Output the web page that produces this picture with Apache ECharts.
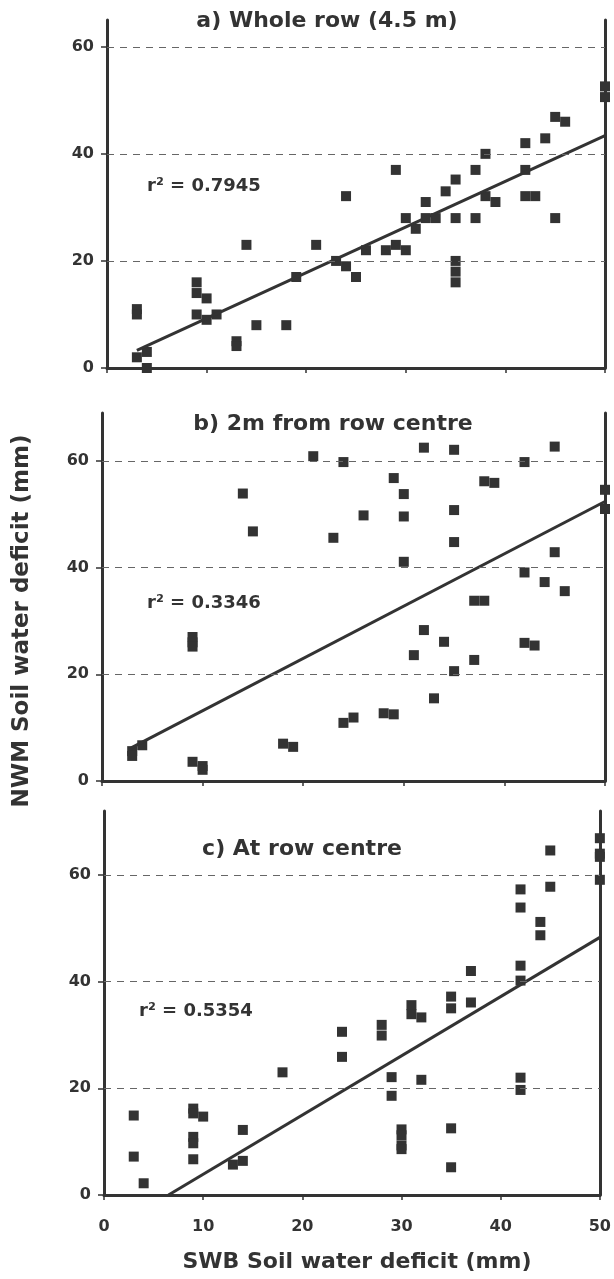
<!DOCTYPE html>
<html>
<head>
<meta charset="utf-8">
<script src="https://cdn.jsdelivr.net/npm/echarts@6/dist/echarts.min.js"></script>
<style>
  html, body { margin: 0; padding: 0; background: #fff; }
  #chart { width: 614px; height: 1279px; }
</style>
</head>
<body>
<div id="chart"></div>
<script>
// SWB (x) vs NWM (y) soil water deficit, mm
const pointsA = [
  [50, 52.6], [50, 50.6], [45, 46.9], [46, 46], [44, 42.9], [42, 42], [42, 37], [38, 40],
  [37, 37], [29, 37], [35, 35.2], [24, 32.1], [34, 33], [32, 31], [38, 32.1], [39, 31],
  [42, 32.1], [43, 32.1], [30, 28], [32, 28], [33, 28], [35, 28], [37, 28], [45, 28],
  [31, 26], [14, 23], [21, 23], [26, 22], [28, 22], [29, 23], [30, 22], [23, 20],
  [24, 19], [25, 17], [19, 17], [35, 20], [35, 18], [35, 16], [9, 16], [9, 14],
  [10, 13], [9, 10], [10, 9], [11, 10], [3, 11], [3, 10], [3, 2], [4, 3], [4, 0],
  [13, 5], [13, 4.1], [15, 8], [18, 8]
]
const pointsB = [
  [32, 62.5], [35, 62.1], [45, 62.7], [21, 60.9], [24, 59.8], [42, 59.8], [29, 56.8],
  [38, 56.2], [39, 55.9], [30, 53.8], [14, 53.9], [50, 54.6], [50, 51], [35, 50.8],
  [26, 49.8], [30, 49.6], [15, 46.8], [23, 45.6], [35, 44.8], [45, 42.9], [30, 41.1],
  [42, 39.1], [44, 37.3], [46, 35.6], [37, 33.8], [38, 33.8], [32, 28.3], [9, 27],
  [9, 26], [9, 25.2], [34, 26.1], [42, 25.9], [43, 25.4], [31, 23.6], [37, 22.7],
  [35, 20.6], [33, 15.5], [28, 12.7], [29, 12.5], [24, 10.9], [25, 11.9], [18, 7],
  [19, 6.4], [3, 5.6], [3, 4.7], [4, 6.7], [9, 3.6], [10, 2.8], [10, 2.1]
]
const pointsC = [
  [50, 66.9], [50, 64], [50, 63.4], [50, 59.1], [45, 64.6], [45, 57.8], [42, 57.3],
  [42, 53.9], [44, 51.2], [44, 48.7], [37, 42], [42, 43], [42, 40.2], [35, 37.2],
  [35, 35], [37, 36.1], [31, 35.6], [31, 33.9], [32, 33.3], [28, 31.9], [28, 29.9],
  [24, 30.6], [24, 25.9], [18, 23], [29, 22.1], [29, 18.6], [32, 21.6], [42, 22],
  [42, 19.7], [30, 12.3], [30, 11.2], [30, 9.3], [30, 8.6], [35, 12.5], [35, 5.2],
  [3, 14.9], [3, 7.2], [4, 2.2], [9, 16.2], [9, 15.3], [10, 14.7], [9, 10.9],
  [9, 9.7], [9, 6.7], [14, 12.2], [13, 5.7], [14, 6.4]
]
// regression lines, read at their ends
const fitA = [[3, 3.3], [50, 43.4]]
const fitB = [[2.9, 6.2], [50, 52.4]]
const fitC = [[6.5, 0], [50, 48.3]]

const panelTitles = ['a) Whole row (4.5 m)', 'b) 2m from row centre', 'c) At row centre']
const r2Labels = ['r² = 0.7945', 'r² = 0.3346', 'r² = 0.5354']
const yMax = [65, 69, 72]
const xTicks = [0, 10, 20, 30, 40, 50]
const yTicks = [0, 20, 40, 60]
const gridLines = [20, 40, 60]

const ink = '#333'
// wide bold face, the reference text is stretched sideways
const fontFamily = '"DejaVu Sans", "Liberation Sans", sans-serif'

// panel boxes in pixels
const boxes = [
  { left: 107, top: 20, width: 498, height: 348 },
  { left: 102, top: 413, width: 503, height: 368 },
  { left: 104, top: 811, width: 501, height: 384 }
]
const titlePos = [[327, 21], [333, 424], [302, 849]]
const r2Pos = [[147, 186], [147, 603], [139, 1011]]

const chart = echarts.init(document.getElementById('chart'), null, { renderer: 'canvas' })

const grid = boxes.map(b => ({ ...b, containLabel: false }))

const xAxis = boxes.map((b, i) => ({
  type: 'value',
  gridIndex: i,
  min: 0,
  max: 50,
  interval: 10,
  axisLine: { show: true, onZero: false, lineStyle: { color: ink, width: 3 } },
  axisTick: { show: true, length: 5, lineStyle: { color: ink, width: 1.5 } },
  axisLabel: {
    show: i === 2,
    margin: 24,
    color: ink,
    fontSize: 16,
    fontWeight: 'bold',
    fontFamily: fontFamily,
    customValues: xTicks
  },
  splitLine: { show: false }
}))

const yAxis = []
boxes.forEach((b, i) => {
  yAxis.push({
    type: 'value',
    gridIndex: i,
    position: 'left',
    min: 0,
    max: yMax[i],
    axisLine: { show: true, onZero: false, lineStyle: { color: ink, width: 3 } },
    axisTick: { show: true, length: 6, lineStyle: { color: ink, width: 1.5 }, customValues: yTicks },
    axisLabel: {
      margin: 13,
      color: ink,
      fontSize: 16,
      fontWeight: 'bold',
      fontFamily: fontFamily,
      customValues: yTicks
    },
    splitLine: { show: false }
  })
})
boxes.forEach((b, i) => {
  yAxis.push({
    type: 'value',
    gridIndex: i,
    position: 'right',
    min: 0,
    max: yMax[i],
    axisLine: { show: true, onZero: false, lineStyle: { color: ink, width: 3 } },
    axisTick: { show: false },
    axisLabel: { show: false },
    splitLine: { show: false }
  })
})

const allPoints = [pointsA, pointsB, pointsC]
const allFits = [fitA, fitB, fitC]
const series = []
allPoints.forEach((pts, i) => {
  series.push({
    type: 'scatter',
    xAxisIndex: i,
    yAxisIndex: i,
    symbol: 'rect',
    symbolSize: 10,
    itemStyle: { color: ink, opacity: 1 },
    data: pts,
    z: 3,
    markLine: {
      silent: true,
      symbol: 'none',
      label: { show: false },
      lineStyle: { color: '#666', type: [7, 6], width: 1 },
      data: gridLines.map(v => ({ yAxis: v }))
    }
  })
  series.push({
    type: 'line',
    xAxisIndex: i,
    yAxisIndex: i,
    symbol: 'none',
    lineStyle: { color: ink, width: 3 },
    data: allFits[i],
    z: 4
  })
})

const graphic = []
panelTitles.forEach((t, i) => {
  graphic.push({
    type: 'text',
    x: titlePos[i][0],
    y: titlePos[i][1],
    style: {
      text: t,
      fill: ink,
      font: 'bold 22px ' + fontFamily,
      textAlign: 'center',
      textVerticalAlign: 'middle'
    }
  })
})
r2Labels.forEach((t, i) => {
  graphic.push({
    type: 'text',
    x: r2Pos[i][0],
    y: r2Pos[i][1],
    style: {
      text: t,
      fill: ink,
      font: 'bold 18px ' + fontFamily,
      textAlign: 'left',
      textVerticalAlign: 'middle'
    }
  })
})
graphic.push({
  type: 'text',
  x: 22,
  y: 621,
  rotation: Math.PI / 2,
  style: {
    text: 'NWM Soil water deficit (mm)',
    fill: ink,
    font: 'bold 23px ' + fontFamily,
    textAlign: 'center',
    textVerticalAlign: 'middle'
  }
})
graphic.push({
  type: 'text',
  x: 357,
  y: 1262,
  style: {
    text: 'SWB Soil water deficit (mm)',
    fill: ink,
    font: 'bold 22px ' + fontFamily,
    textAlign: 'center',
    textVerticalAlign: 'middle'
  }
})

chart.setOption({
  animation: false,
  backgroundColor: '#fff',
  grid: grid,
  xAxis: xAxis,
  yAxis: yAxis,
  series: series,
  graphic: graphic
})
</script>
</body>
</html>
